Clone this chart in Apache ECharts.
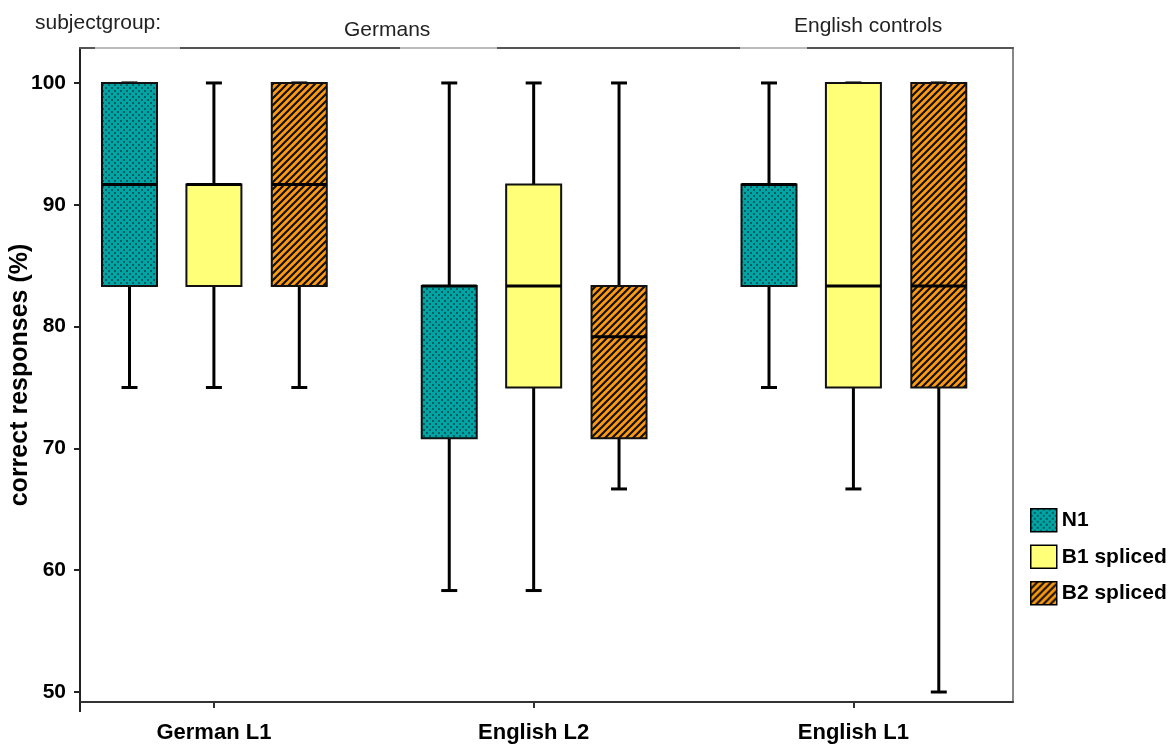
<!DOCTYPE html>
<html>
<head>
<meta charset="utf-8">
<script src="https://cdn.jsdelivr.net/npm/echarts@6/dist/echarts.min.js"></script>
<style>
  html, body { margin: 0; padding: 0; background: #fff; }
  #chart { width: 1176px; height: 749px; }
</style>
</head>
<body>
<div id="chart"></div>
<script>
// groups on the x axis
var categories = ['German L1', 'English L2', 'English L1'];
var seriesNames = ['N1', 'B1 spliced', 'B2 spliced'];
var yTicks = [50, 60, 70, 80, 90, 100];

// [low, q1, median, q3, high] per category
var n1 = [
  [75, 83.33, 91.67, 100, 100],
  [58.33, 70.83, 83.33, 83.33, 100],
  [75, 83.33, 91.67, 91.67, 100]
];
var b1 = [
  [75, 83.33, 91.67, 91.67, 100],
  [58.33, 75, 83.33, 91.67, 100],
  [66.67, 75, 83.33, 100, 100]
];
var b2 = [
  [75, 83.33, 91.67, 100, 100],
  [66.67, 70.83, 79.17, 83.33, 100],
  [50, 75, 83.33, 100, 100]
];

function makePattern(kind) {
  var c = document.createElement('canvas');
  var ctx = c.getContext('2d');
  if (kind === 'dots') {
    c.width = 6; c.height = 6;
    ctx.fillStyle = '#00a4a4';
    ctx.fillRect(0, 0, 6, 6);
    ctx.fillStyle = '#00605f';
    ctx.fillRect(0, 0, 2, 2);
    ctx.fillRect(3, 3, 2, 2);
  } else {
    c.width = 7; c.height = 7;
    ctx.fillStyle = '#ff9a10';
    ctx.fillRect(0, 0, 7, 7);
    ctx.strokeStyle = '#111';
    ctx.lineWidth = 2.2;
    ctx.beginPath();
    ctx.moveTo(-1, 8); ctx.lineTo(8, -1);
    ctx.moveTo(-4, 4); ctx.lineTo(4, -4);
    ctx.moveTo(3, 11); ctx.lineTo(11, 3);
    ctx.stroke();
  }
  return { image: c, repeat: 'repeat' };
}

var fills = [makePattern('dots'), '#ffff78', makePattern('hatch')];
var offsets = [-0.264, 0, 0.267];
var boxW = 0.172;
var capW = 0.05;

function toData(arr) {
  return arr.map(function (d, i) { return [i].concat(d); });
}

function boxRenderer(k) {
  return function (params, api) {
    var cat = api.value(0);
    var unit = api.size([1, 0])[0];
    var cx = api.coord([cat, 0])[0] + offsets[k] * unit;
    var hw = boxW * unit / 2;
    var cw = capW * unit / 2;
    var yLow = api.coord([cat, api.value(1)])[1];
    var yQ1 = api.coord([cat, api.value(2)])[1];
    var yMed = api.coord([cat, api.value(3)])[1];
    var yQ3 = api.coord([cat, api.value(4)])[1];
    var yHigh = api.coord([cat, api.value(5)])[1];
    var lineStyle = { stroke: '#000', lineWidth: 3 };
    return {
      type: 'group',
      children: [
        { type: 'line', shape: { x1: cx, y1: yHigh, x2: cx, y2: yQ3 }, style: lineStyle },
        { type: 'line', shape: { x1: cx, y1: yQ1, x2: cx, y2: yLow }, style: lineStyle },
        { type: 'line', shape: { x1: cx - cw, y1: yHigh, x2: cx + cw, y2: yHigh }, style: lineStyle },
        { type: 'line', shape: { x1: cx - cw, y1: yLow, x2: cx + cw, y2: yLow }, style: lineStyle },
        {
          type: 'rect',
          shape: { x: cx - hw, y: yQ3, width: hw * 2, height: yQ1 - yQ3 },
          style: { fill: fills[k], stroke: '#111', lineWidth: 2 }
        },
        { type: 'line', shape: { x1: cx - hw, y1: yMed, x2: cx + hw, y2: yMed }, style: lineStyle }
      ]
    };
  };
}

var font = 'Liberation Sans, Arial, sans-serif';
var headStyle = { fontFamily: font, fontSize: 21, fontWeight: 'normal', color: '#222' };
var chart = echarts.init(document.getElementById('chart'));
chart.setOption({
  animation: false,
  title: [
    { text: 'subjectgroup:', left: 30, top: 8, textStyle: headStyle },
    { text: 'Germans', left: 339, top: 15, textStyle: headStyle },
    { text: 'English controls', left: 789, top: 11, textStyle: headStyle }
  ],
  legend: {
    orient: 'vertical',
    left: 1025,
    top: 503,
    itemWidth: 26,
    itemHeight: 23,
    itemGap: 12,
    icon: 'rect',
    itemStyle: { borderColor: '#000', borderWidth: 1.5 },
    textStyle: { fontFamily: font, fontSize: 21, fontWeight: 'bold', color: '#000', lineHeight: 23 },
    data: seriesNames
  },
  grid: { left: 80, right: 163, top: 48, bottom: 47, outerBoundsMode: 'none' },
  xAxis: [{
    type: 'value',
    min: -0.4188,
    max: 2.4991,
    splitLine: { show: false },
    axisLine: { onZero: false, lineStyle: { color: '#333', width: 2 } },
    axisTick: { customValues: [0, 1, 2], length: 6, lineStyle: { color: '#333', width: 2 } },
    axisLabel: {
      customValues: [0, 1, 2],
      margin: 20,
      fontFamily: font, fontSize: 22, fontWeight: 'bold', color: '#000',
      formatter: function (v) { return categories[Math.round(v)]; }
    }
  }, {
    type: 'value',
    position: 'top',
    min: -0.4188,
    max: 2.4991,
    splitLine: { show: false },
    axisLine: { show: true, onZero: false, lineStyle: { color: '#555', width: 2 } },
    axisTick: { show: false },
    axisLabel: { show: false }
  }],
  yAxis: [{
    type: 'value',
    min: 49.18,
    max: 102.87,
    name: 'correct responses (%)',
    nameLocation: 'middle',
    nameGap: 47,
    nameMoveOverlap: false,
    nameTextStyle: { fontFamily: font, fontSize: 25, fontWeight: 'bold', color: '#000' },
    splitLine: { show: false },
    axisLine: { show: true, onZero: false, lineStyle: { color: '#222', width: 2 } },
    axisTick: { customValues: yTicks, length: 6, lineStyle: { color: '#222', width: 2 } },
    axisLabel: { customValues: yTicks, margin: 14, fontFamily: font, fontSize: 21, fontWeight: 'bold', color: '#000' }
  }, {
    type: 'value',
    position: 'right',
    min: 49.18,
    max: 102.87,
    splitLine: { show: false },
    axisLine: { show: true, onZero: false, lineStyle: { color: '#888', width: 2 } },
    axisTick: { show: false },
    axisLabel: { show: false }
  }],
  graphic: [
    { type: 'line', z: 100, shape: { x1: 80, y1: 702, x2: 80, y2: 712 }, style: { stroke: '#222', lineWidth: 2 } },
    { type: 'line', z: 100, shape: { x1: 95, y1: 48, x2: 180, y2: 48 }, style: { stroke: '#bbb', lineWidth: 2 } },
    { type: 'line', z: 100, shape: { x1: 400, y1: 48, x2: 497, y2: 48 }, style: { stroke: '#bbb', lineWidth: 2 } },
    { type: 'line', z: 100, shape: { x1: 740, y1: 48, x2: 807, y2: 48 }, style: { stroke: '#bbb', lineWidth: 2 } }
  ],
  series: [n1, b1, b2].map(function (arr, k) {
    return {
      name: seriesNames[k],
      type: 'custom',
      renderItem: boxRenderer(k),
      itemStyle: { color: fills[k], borderColor: '#000', borderWidth: 1.5 },
      encode: { x: 0, y: [1, 2, 3, 4, 5] },
      data: toData(arr)
    };
  })
});
</script>
</body>
</html>
